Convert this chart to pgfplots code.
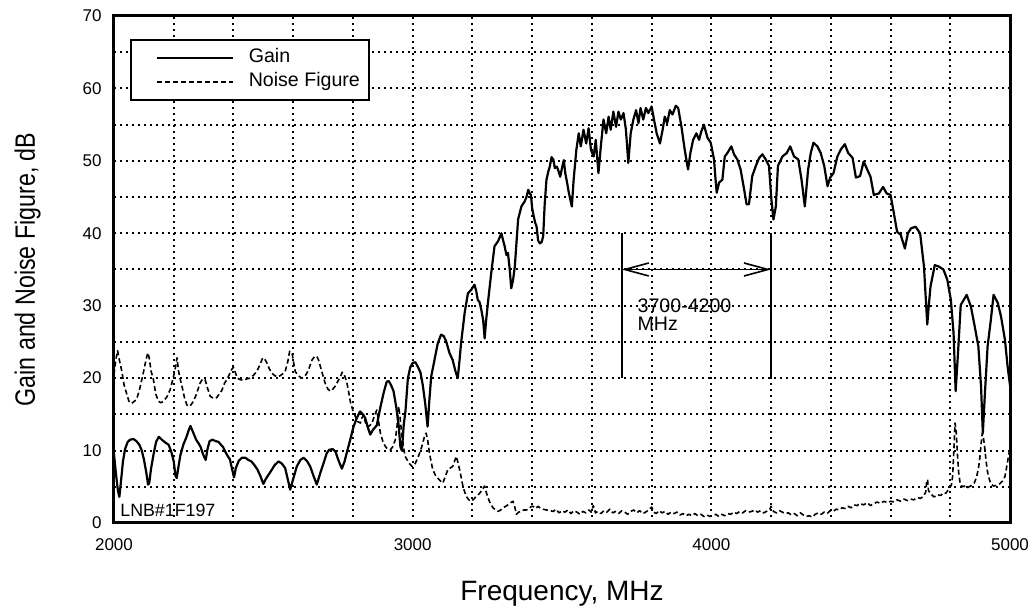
\documentclass[border=0pt]{standalone}
\usepackage{fontspec}
\setmainfont{Liberation Sans}
\newfontfamily\narrowfont{Liberation Sans}[FakeStretch=0.83]
\usepackage{pgfplots}
\pgfplotsset{compat=1.18}
\usetikzlibrary{arrows.meta}
\begin{document}
\begin{tikzpicture}
\begin{axis}[
 scale only axis, width=448pt, height=253.5pt,
 xmin=2000, xmax=5000, ymin=0, ymax=70,
 xtick={2000,3000,4000,5000}, ytick={0,10,...,70},
 minor xtick={2200,2400,...,4800}, minor ytick={5,15,...,65},
 grid=both,
 major grid style={black, line width=1pt, dash pattern=on 1pt off 2pt},
 minor grid style={black, line width=1pt, dash pattern=on 1pt off 2pt},
 major tick length=0pt, minor tick length=0pt,
 axis line style={line width=1.5pt},
 tick label style={font=\fontsize{8.5}{10}\selectfont},
 /pgf/number format/assume math mode=true,
 /pgf/number format/1000 sep={},
 xticklabel style={anchor=north, inner sep=0pt, yshift=-7.5pt},
 yticklabel style={anchor=east, inner sep=0pt, xshift=-6pt},
 xlabel={Frequency, MHz},
 ylabel={\narrowfont Gain and Noise Figure, dB},
 xlabel style={font=\fontsize{14}{16}\selectfont, at={(axis description cs:0.5,-0.152)}, anchor=base},
 ylabel style={font=\fontsize{14}{16}\selectfont, at={(axis description cs:-0.0882,0.5)}, anchor=base},
 legend style={at={(axis description cs:0.01786,0.9546)}, anchor=north west, draw=black, line width=0.8pt,
   font=\fontsize{9.8}{11}\selectfont, inner xsep=4.5pt, inner ysep=4.5pt, row sep=3pt,
   nodes={inner sep=0pt, text height=7pt, text depth=2pt}, cells={anchor=west}},
 legend image code/.code={\draw[#1] (8.5pt,0pt) -- (46.5pt,0pt); \path[draw=none] (0pt,0pt) (54.5pt,0pt);},
]
\coordinate (sw) at (rel axis cs:0,0);
\coordinate (ne) at (rel axis cs:1,1);
\addplot[black, line width=1.1pt, line join=round] coordinates {
(2000,9.5)(2006,7.0)(2013,4.5)(2018,3.6)(2024,6.0)(2030,8.5)(2037,10.2)(2046,11.2)(2054,11.5)(2065,11.6)
(2075,11.3)(2085,10.8)(2093,10.0)(2100,8.8)(2108,7.0)(2114,5.3)(2118,5.5)(2124,7.5)(2133,9.6)(2141,11.2)
(2150,11.9)(2160,11.5)(2172,11.1)(2183,10.8)(2192,9.8)(2200,8.5)(2206,6.5)(2210,6.2)(2216,7.8)(2222,9.3)
(2232,10.8)(2242,11.8)(2250,12.8)(2256,13.4)(2262,12.8)(2268,12.2)(2275,11.5)(2283,11.0)(2290,10.5)(2298,9.5)
(2307,8.7)(2313,10.2)(2320,11.3)(2330,11.5)(2340,11.3)(2350,11.2)(2358,10.8)(2365,10.5)(2373,9.8)(2380,9.3)
(2388,8.8)(2395,7.5)(2402,6.3)(2408,7.6)(2418,8.6)(2428,9.0)(2440,9.0)(2450,8.7)(2460,8.5)(2470,8.0)
(2480,7.4)(2490,6.5)(2500,5.4)(2510,6.2)(2523,7.0)(2538,8.0)(2551,8.5)(2562,8.2)(2573,7.6)(2582,6.0)
(2590,4.6)(2598,5.8)(2612,7.8)(2624,8.7)(2635,9.0)(2647,8.5)(2657,7.8)(2668,6.5)(2679,5.3)(2690,6.8)
(2702,8.3)(2712,9.6)(2720,10.1)(2732,10.2)(2741,9.9)(2752,8.6)(2763,7.5)(2772,8.5)(2780,9.8)(2791,11.5)
(2802,13.3)(2813,14.5)(2824,15.4)(2833,15.0)(2841,14.5)(2850,13.2)(2858,12.2)(2866,12.8)(2880,13.5)(2892,16.0)
(2903,18.0)(2913,19.5)(2920,19.6)(2928,19.0)(2936,18.2)(2945,16.0)(2953,13.5)(2959,10.5)(2964,10.0)(2970,13.5)
(2976,15.5)(2984,20.0)(2992,21.5)(3000,22.1)(3009,22.2)(3017,21.6)(3026,20.8)(3034,19.0)(3042,16.5)(3050,13.3)
(3056,17.0)(3062,20.2)(3073,22.5)(3084,24.8)(3095,26.0)(3104,25.8)(3112,25.1)(3123,23.5)(3134,22.5)(3143,21.0)
(3151,20.0)(3157,22.5)(3162,24.8)(3174,29.0)(3185,31.7)(3196,32.2)(3207,32.9)(3213,32.0)(3218,30.8)(3224,30.5)
(3230,29.4)(3236,28.0)(3241,25.5)(3246,28.0)(3252,30.4)(3263,34.5)(3274,38.2)(3286,38.9)(3297,40.0)(3303,39.0)
(3308,38.2)(3314,37.0)(3319,37.3)(3325,35.0)(3330,32.4)(3336,33.5)(3342,35.4)(3353,41.9)(3364,43.7)(3375,44.4)
(3381,45.0)(3387,46.0)(3392,45.5)(3396,45.3)(3400,43.5)(3403,42.8)(3410,41.5)(3415,40.9)(3420,39.0)(3426,38.6)
(3432,38.8)(3437,39.6)(3442,44.0)(3448,47.4)(3454,48.5)(3459,49.2)(3465,50.5)(3471,50.2)(3476,49.0)(3483,49.2)
(3489,48.5)(3494,47.8)(3500,49.0)(3506,50.1)(3511,48.3)(3517,47.0)(3522,45.8)(3528,44.6)(3533,43.7)(3539,47.4)
(3548,51.5)(3556,53.8)(3563,52.0)(3572,54.3)(3581,52.4)(3589,54.5)(3597,51.5)(3606,50.6)(3613,52.9)(3622,48.3)
(3630,52.0)(3639,55.7)(3648,53.8)(3656,56.1)(3663,54.3)(3672,56.8)(3681,54.7)(3689,56.8)(3697,55.7)(3706,56.6)
(3714,54.3)(3722,49.7)(3730,53.8)(3739,55.7)(3748,57.0)(3756,55.2)(3763,57.3)(3772,55.7)(3781,57.3)(3789,56.6)
(3800,57.5)(3808,55.7)(3817,53.8)(3828,52.4)(3837,54.3)(3844,56.1)(3852,55.2)(3861,57.0)(3870,56.4)(3881,57.6)
(3889,57.3)(3900,54.7)(3911,51.5)(3922,48.8)(3930,51.1)(3939,52.9)(3950,53.8)(3959,52.9)(3966,54.0)(3975,55.0)
(3987,53.2)(3998,52.5)(4009,50.2)(4014,47.5)(4018,45.6)(4026,47.0)(4037,47.4)(4045,50.6)(4054,51.1)(4067,52.0)
(4076,50.9)(4087,50.2)(4098,48.8)(4110,46.0)(4118,44.0)(4126,44.0)(4137,47.9)(4149,49.3)(4160,50.4)(4171,50.9)
(4182,50.2)(4193,49.3)(4201,44.7)(4208,41.9)(4216,43.7)(4223,49.3)(4238,50.6)(4253,51.1)(4264,52.0)(4277,50.6)
(4291,50.2)(4302,47.4)(4313,43.7)(4324,48.8)(4333,51.1)(4342,52.5)(4355,52.0)(4366,51.1)(4378,49.3)(4389,46.5)
(4398,47.7)(4409,48.3)(4422,50.6)(4434,51.6)(4447,52.3)(4458,51.1)(4473,50.4)(4484,47.7)(4498,47.9)(4510,49.9)
(4522,48.8)(4533,47.8)(4544,45.3)(4561,45.5)(4575,46.4)(4587,45.5)(4600,45.3)(4611,42.8)(4622,40.2)(4634,39.8)
(4648,37.9)(4658,40.0)(4669,40.7)(4684,40.9)(4699,40.0)(4712,35.4)(4718,31.0)(4723,27.4)(4728,30.0)(4734,32.7)
(4748,35.6)(4762,35.4)(4777,35.0)(4790,33.6)(4802,30.8)(4811,26.2)(4818,18.2)(4826,23.5)(4835,30.1)(4855,31.5)
(4869,29.9)(4882,27.1)(4894,24.4)(4903,18.9)(4909,12.4)(4916,17.9)(4925,24.4)(4936,28.1)(4945,31.5)(4959,30.4)
(4970,28.5)(4983,25.3)(4992,21.6)(5000,19.0)
};
\addlegendentry{Gain}
\addplot[black, line width=0.8pt, line join=round, dash pattern=on 2.5pt off 1.5pt] coordinates {
(2000,20.5)(2006,22.5)(2012,23.8)(2018,22.5)(2026,21.0)(2034,19.0)(2042,17.9)(2050,16.8)(2059,16.5)(2068,16.8)
(2076,17.1)(2086,18.5)(2098,20.7)(2106,22.3)(2113,23.5)(2118,22.8)(2124,21.0)(2132,19.8)(2140,17.8)(2149,16.8)
(2157,16.6)(2165,16.8)(2177,17.4)(2188,18.4)(2198,20.0)(2206,21.5)(2211,22.8)(2216,21.0)(2222,19.8)(2228,18.8)
(2236,17.3)(2244,16.3)(2254,16.1)(2266,16.8)(2276,17.8)(2288,19.3)(2297,19.9)(2305,19.8)(2314,18.5)(2322,17.5)
(2333,17.2)(2344,17.3)(2352,17.8)(2361,18.3)(2370,19.3)(2378,19.8)(2386,20.5)(2394,21.2)(2400,21.5)(2406,20.8)
(2413,20.0)(2422,19.8)(2434,19.7)(2445,19.9)(2456,20.0)(2467,20.4)(2478,20.9)(2488,21.8)(2498,22.8)(2505,22.6)
(2512,22.1)(2520,21.3)(2528,20.7)(2540,20.3)(2551,20.2)(2562,20.5)(2573,20.9)(2582,22.3)(2588,23.7)(2596,23.5)
(2602,22.0)(2607,20.9)(2618,20.3)(2629,20.0)(2640,20.3)(2650,21.0)(2663,22.5)(2672,23.0)(2679,23.0)(2685,22.5)
(2691,21.6)(2700,20.3)(2707,19.3)(2716,18.5)(2724,18.2)(2733,18.5)(2741,18.9)(2750,19.6)(2758,20.2)(2764,20.8)
(2769,20.7)(2775,20.0)(2780,19.3)(2786,18.0)(2791,16.8)(2800,15.5)(2808,14.7)(2816,14.0)(2825,13.8)(2830,14.5)
(2836,14.9)(2841,14.0)(2847,13.3)(2855,13.4)(2864,13.8)(2872,14.8)(2880,15.6)(2886,14.0)(2892,12.4)(2900,11.3)
(2908,10.6)(2916,10.2)(2925,10.1)(2933,10.5)(2942,11.5)(2948,13.5)(2953,16.1)(2958,14.5)(2964,12.0)(2970,10.3)
(2975,9.2)(2987,8.3)(2998,7.8)(3006,8.0)(3014,8.7)(3022,9.5)(3031,10.6)(3040,12.0)(3045,12.4)(3050,11.5)
(3056,9.7)(3067,7.4)(3076,6.6)(3084,6.2)(3093,5.8)(3101,5.5)(3110,6.5)(3118,7.4)(3126,7.6)(3134,7.8)
(3140,8.5)(3146,9.2)(3152,8.3)(3157,7.4)(3163,6.2)(3168,5.1)(3174,4.3)(3179,3.7)(3188,3.2)(3196,3.0)
(3205,3.3)(3213,3.7)(3222,4.0)(3230,4.4)(3236,4.8)(3241,5.1)(3246,4.3)(3252,3.5)(3260,2.7)(3269,2.1)
(3278,1.8)(3286,1.6)(3295,1.8)(3303,2.1)(3311,2.3)(3319,2.5)(3328,2.8)(3336,3.0)(3342,2.2)(3347,1.2)
(3355,1.5)(3364,1.6)(3372,1.8)(3381,1.8)(3390,2.0)(3398,2.3)(3403,2.3)(3412,2.0)(3420,2.3)(3426,2.1)
(3437,1.9)(3448,1.8)(3460,1.7)(3471,1.6)(3480,1.9)(3490,1.4)(3500,1.7)(3510,1.5)(3520,1.8)(3530,1.3)
(3540,1.7)(3550,1.5)(3560,1.2)(3570,1.6)(3580,1.4)(3590,1.8)(3598,1.5)(3605,2.4)(3612,1.4)(3620,1.6)
(3630,1.3)(3640,1.7)(3650,1.5)(3660,1.9)(3670,1.4)(3680,1.6)(3690,1.3)(3700,1.7)(3710,1.5)(3720,1.2)
(3730,1.6)(3740,1.8)(3750,1.4)(3760,1.7)(3770,1.3)(3780,1.5)(3790,1.8)(3800,2.2)(3808,1.5)(3815,1.3)
(3825,1.7)(3835,1.4)(3845,1.6)(3855,1.2)(3865,1.5)(3875,1.3)(3885,1.5)(3895,1.1)(3905,1.3)(3915,1.0)
(3925,1.2)(3935,1.0)(3945,1.3)(3955,1.0)(3965,1.2)(3975,0.9)(3985,1.1)(3995,0.9)(4005,1.0)(4015,1.2)
(4025,0.9)(4035,1.2)(4045,1.0)(4055,1.3)(4065,1.2)(4075,1.5)(4085,1.3)(4095,1.6)(4105,1.4)(4115,1.7)
(4125,1.5)(4135,1.6)(4145,1.8)(4155,1.5)(4165,1.7)(4175,1.4)(4185,1.6)(4195,1.8)(4200,2.3)(4208,1.6)
(4218,1.4)(4228,1.7)(4238,1.5)(4248,1.3)(4258,1.4)(4268,1.1)(4278,1.3)(4288,1.0)(4298,1.4)(4308,1.1)
(4318,0.9)(4328,1.0)(4338,0.8)(4348,1.2)(4358,1.4)(4368,1.2)(4378,1.5)(4388,1.3)(4398,1.7)(4408,1.6)
(4418,1.9)(4428,1.8)(4438,2.1)(4448,2.0)(4458,2.3)(4468,2.1)(4478,2.5)(4488,2.4)(4498,2.7)(4510,2.5)
(4522,2.8)(4533,2.4)(4545,2.7)(4555,2.9)(4566,2.7)(4578,3.0)(4590,2.8)(4600,3.0)(4612,2.9)(4622,3.2)
(4634,3.0)(4645,3.3)(4656,3.1)(4667,3.3)(4678,3.2)(4690,3.5)(4701,3.4)(4712,3.8)(4718,4.3)(4721,5.8)
(4724,6.0)(4727,4.5)(4733,4.1)(4740,3.8)(4746,3.6)(4757,3.9)(4768,3.8)(4778,4.2)(4785,4.1)(4792,4.5)
(4798,4.8)(4804,5.3)(4808,6.5)(4812,10.0)(4816,13.8)(4820,12.5)(4824,9.5)(4828,7.0)(4833,5.5)(4840,5.0)
(4847,5.1)(4855,4.8)(4863,5.0)(4872,5.2)(4880,5.5)(4887,6.2)(4894,7.4)(4899,9.0)(4903,10.8)(4907,12.4)
(4911,11.8)(4916,10.2)(4920,8.5)(4925,7.0)(4931,6.0)(4936,5.4)(4945,5.1)(4955,5.2)(4965,5.4)(4975,5.8)
(4983,6.4)(4990,8.0)(4996,9.5)(5000,10.3)
};
\addlegendentry{Noise Figure}
\draw[line width=0.8pt] (axis cs:3700,20) -- (axis cs:3700,40);
\draw[line width=1pt] (axis cs:4200,20) -- (axis cs:4200,40);
\draw[line width=0.8pt, {Straight Barb[length=12pt,width=6.5pt]}-{Straight Barb[length=12pt,width=6.5pt]}] (axis cs:3700,35) -- (axis cs:4200,35);
\node[anchor=north west, inner sep=0pt, align=left, font=\fontsize{9.8}{8.8}\selectfont] at (axis cs:3752,31.0) {3700-4200\\MHz};
\node[anchor=base west, inner sep=0pt, font=\fontsize{8.9}{10}\selectfont] at (axis cs:2020,0.83) {LNB\#1F197};
\end{axis}
\pgfresetboundingbox
\path ([shift={(-57pt,-42pt)}]sw) rectangle ([shift={(11.5pt,8pt)}]ne);
\end{tikzpicture}
\end{document}
